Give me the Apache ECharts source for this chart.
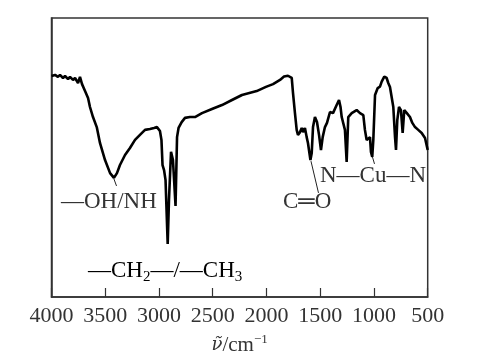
<!DOCTYPE html>
<html>
<head>
<meta charset="utf-8">
<script src="https://cdn.jsdelivr.net/npm/echarts@6/dist/echarts.min.js"></script>
<style>
html,body{margin:0;padding:0;background:#fff;}
#chart{width:499px;height:363px;}
</style>
</head>
<body>
<div id="chart"></div>
<script>
// Wavenumber (cm^-1) and transmittance (arbitrary %)
const wavenumbers = [4000,3967,3940,3921,3893,3874,3846,3828,3800,3781,3753,3735,3716,3688,3660,3642,3614,3579,3549,3502,3455,3419,3391,3363,3316,3270,3223,3177,3130,3084,3046,3019,2991,2977,2967,2953,2939,2919,2907,2888,2870,2846,2832,2818,2789,2758,2712,2665,2600,2507,2414,2321,2228,2091,2005,1939,1874,1837,1800,1765,1753,1735,1719,1707,1688,1672,1660,1642,1626,1614,1591,1579,1567,1549,1530,1511,1493,1477,1456,1437,1409,1381,1347,1325,1311,1300,1288,1270,1254,1239,1207,1161,1130,1099,1084,1068,1053,1037,1028,1016,1006,990,965,944,928,904,882,867,851,820,804,795,783,767,749,733,718,696,665,643,618,588,556,525,500];
const transmittance = [79.2,79.6,78.9,79.6,78.5,79.2,78.1,78.9,77.8,78.5,76.7,78.9,76.3,73.8,71.3,68.1,64.5,60.9,55.2,49.1,44.4,42.7,44.4,47.3,50.9,53.4,56.3,58.1,59.9,60.2,60.6,60.9,59.5,56.3,47.3,45.5,41.9,19.0,34.8,52.0,49.1,32.6,57.3,60.6,62.7,64.2,64.5,64.5,65.9,67.4,68.8,70.6,72.4,73.8,75.3,76.3,77.8,79.0,79.3,78.5,73.1,65.9,59.9,58.1,59.1,60.6,59.1,60.6,57.3,55.2,49.1,51.6,60.9,64.5,62.7,58.1,52.7,57.3,60.9,62.4,66.3,65.9,68.8,70.6,68.1,64.5,65.2,59.9,48.4,64.5,65.9,67.0,65.9,65.2,59.9,56.3,55.6,57.3,52.0,50.2,56.3,72.4,74.9,75.4,77.2,79.0,78.5,76.7,75.3,68.1,57.3,52.7,63.4,68.1,67.0,58.8,67.0,66.0,64.5,62.4,60.9,59.9,58.8,57.0,52.7];
const xTicks = {min: 500, max: 4000, step: 500};
// annotation pointer segments [wn, T] -> [wn, T]
const pointers = [
  [[3419, 42.3], [3395, 39.8]],
  [[1586, 48.7], [1516, 37.3]],
  [[1014, 50.2], [995, 47.7]]
];

const serif = '"Liberation Serif","Noto Sans CJK SC",serif';
const textColor = '#333';
const chart = echarts.init(document.getElementById('chart'), null, {renderer: 'canvas'});

const seriesData = wavenumbers.map((w, i) => [w, transmittance[i]]);

const subRich = {
  n: {fontFamily: serif, fontSize: 23, color: textColor, lineHeight: 28},
  sub: {fontFamily: serif, fontSize: 15, color: textColor, lineHeight: 14, verticalAlign: 'bottom'}
};

chart.setOption({
  animation: false,
  grid: {left: 51.5, right: 71.3, top: 18, bottom: 66, show: true, borderColor: '#333', borderWidth: 1.5, backgroundColor: 'transparent'},
  xAxis: {
    type: 'value', inverse: true,
    min: xTicks.min, max: xTicks.max, interval: xTicks.step,
    axisLine: {show: true, lineStyle: {color: '#333', width: 1.5}},
    axisTick: {show: true, inside: true, length: 9, lineStyle: {color: '#333', width: 1.2}},
    splitLine: {show: false},
    axisLabel: {fontFamily: serif, fontSize: 22, color: textColor, margin: 8, formatter: v => String(v)},
    name: '{nu|ν̃}{n|/cm}{sup|−1}',
    nameLocation: 'middle', nameGap: 36,
    nameTextStyle: {
      rich: {
        nu: {fontFamily: '"DejaVu Serif",serif', fontSize: 18, fontStyle: 'italic', color: textColor, lineHeight: 24},
        n: {fontFamily: serif, fontSize: 21, color: textColor, lineHeight: 24},
        sup: {fontFamily: serif, fontSize: 13, color: textColor, lineHeight: 12, verticalAlign: 'top'}
      }
    }
  },
  yAxis: {
    type: 'value', min: 0, max: 100,
    axisLine: {show: true, lineStyle: {color: '#333', width: 1.5}},
    axisTick: {show: false}, axisLabel: {show: false}, splitLine: {show: false}
  },
  series: [{
    type: 'line', data: seriesData, showSymbol: false, smooth: false,
    lineStyle: {color: '#000', width: 2.6}, z: 3,
    markLine: {
      silent: true, symbol: 'none', label: {show: false},
      lineStyle: {color: '#222', width: 1, type: 'solid'},
      data: pointers.map(p => [{coord: p[0]}, {coord: p[1]}])
    }
  }],
  graphic: [
    {type: 'text', left: 61, top: 190, style: {text: '—OH/NH', font: '23px ' + serif, fill: textColor}},
    {type: 'text', left: 88, top: 259, style: {text: '{n|—CH}{sub|2}{n|—/—CH}{sub|3}', rich: subRich}},
    {type: 'text', left: 283, top: 190, style: {text: 'C═O', font: '23px ' + serif, fill: textColor}},
    {type: 'text', left: 320, top: 164, style: {text: 'N—Cu—N', font: '23px ' + serif, fill: textColor}}
  ]
});
</script>
</body>
</html>
